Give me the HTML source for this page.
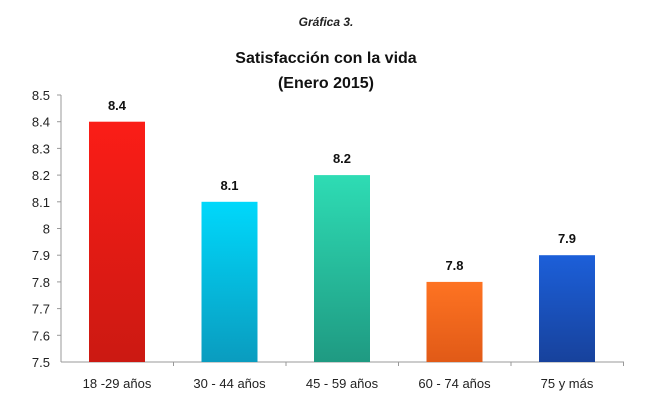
<!DOCTYPE html>
<html><head><meta charset="utf-8"><style>
body{margin:0;background:#fff;width:650px;height:413px;overflow:hidden}
svg{display:block}
text{font-family:"Liberation Sans",sans-serif}
</style></head><body>
<svg width="650" height="413" xmlns="http://www.w3.org/2000/svg">
<defs>
<linearGradient id="g1" x1="0" y1="0" x2="0" y2="1"><stop offset="0" stop-color="#fb1d17"/><stop offset="1" stop-color="#cb1912"/></linearGradient>
<linearGradient id="g2" x1="0" y1="0" x2="0" y2="1"><stop offset="0" stop-color="#00d8fb"/><stop offset="1" stop-color="#0a9cbf"/></linearGradient>
<linearGradient id="g3" x1="0" y1="0" x2="0" y2="1"><stop offset="0" stop-color="#2edcb4"/><stop offset="1" stop-color="#1f9a82"/></linearGradient>
<linearGradient id="g4" x1="0" y1="0" x2="0" y2="1"><stop offset="0" stop-color="#fe7322"/><stop offset="1" stop-color="#e15a17"/></linearGradient>
<linearGradient id="g5" x1="0" y1="0" x2="0" y2="1"><stop offset="0" stop-color="#1c5fd9"/><stop offset="1" stop-color="#17429c"/></linearGradient>
</defs>
<text x="326" y="26" font-size="12" font-weight="bold" font-style="italic" text-anchor="middle" fill="#222">Gráfica 3.</text>
<text x="326" y="63" font-size="16" font-weight="bold" text-anchor="middle" fill="#111">Satisfacción con la vida</text>
<text x="326" y="88" font-size="16" font-weight="bold" text-anchor="middle" fill="#111">(Enero 2015)</text>
<g stroke="#999" stroke-width="1">
<line x1="61" y1="95" x2="61" y2="362"/>
<line x1="61" y1="362" x2="624" y2="362"/>
<line x1="57" y1="95" x2="61" y2="95"/><line x1="57" y1="121.7" x2="61" y2="121.7"/><line x1="57" y1="148.4" x2="61" y2="148.4"/><line x1="57" y1="175.1" x2="61" y2="175.1"/><line x1="57" y1="201.8" x2="61" y2="201.8"/><line x1="57" y1="228.5" x2="61" y2="228.5"/><line x1="57" y1="255.2" x2="61" y2="255.2"/><line x1="57" y1="281.9" x2="61" y2="281.9"/><line x1="57" y1="308.6" x2="61" y2="308.6"/><line x1="57" y1="335.3" x2="61" y2="335.3"/>
<line x1="173.5" y1="362" x2="173.5" y2="366"/><line x1="286" y1="362" x2="286" y2="366"/><line x1="398.5" y1="362" x2="398.5" y2="366"/><line x1="511" y1="362" x2="511" y2="366"/><line x1="623.5" y1="362" x2="623.5" y2="366"/>
</g>
<g font-size="13" fill="#222" text-anchor="end">
<text x="50" y="100">8.5</text><text x="50" y="126.7">8.4</text><text x="50" y="153.4">8.3</text><text x="50" y="180.1">8.2</text><text x="50" y="206.8">8.1</text><text x="50" y="233.5">8</text><text x="50" y="260.2">7.9</text><text x="50" y="286.9">7.8</text><text x="50" y="313.6">7.7</text><text x="50" y="340.3">7.6</text><text x="50" y="367">7.5</text>
</g>
<rect x="89" y="121.7" width="56" height="240.3" fill="url(#g1)"/>
<rect x="201.5" y="201.8" width="56" height="160.2" fill="url(#g2)"/>
<rect x="314" y="175.1" width="56" height="186.9" fill="url(#g3)"/>
<rect x="426.5" y="281.9" width="56" height="80.1" fill="url(#g4)"/>
<rect x="539" y="255.2" width="56" height="106.8" fill="url(#g5)"/>
<g font-size="13" font-weight="bold" fill="#111" text-anchor="middle">
<text x="117" y="110">8.4</text><text x="229.5" y="190">8.1</text><text x="342" y="163">8.2</text><text x="454.5" y="270">7.8</text><text x="567" y="243">7.9</text>
</g>
<g font-size="13" fill="#222" text-anchor="middle">
<text x="117" y="388">18 -29 años</text><text x="229.5" y="388">30 - 44 años</text><text x="342" y="388">45 - 59 años</text><text x="454.5" y="388">60 - 74 años</text><text x="567" y="388">75 y más</text>
</g>
</svg>
</body></html>
